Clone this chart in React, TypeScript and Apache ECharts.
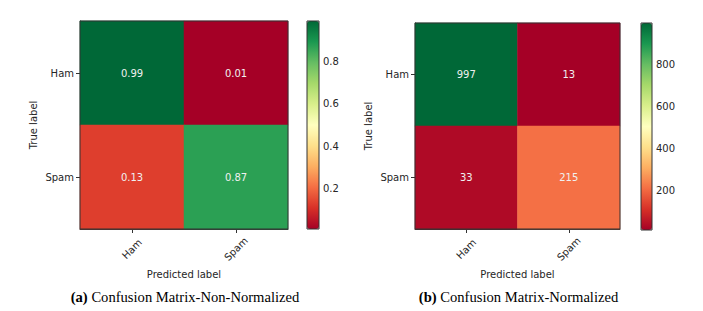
import React, { useEffect, useRef } from "react";
import * as echarts from "echarts";

const classes = ["Ham", "Spam"];
// [predicted index, true index, value]
const normalizedCells: [number, number, number][] = [
  [0, 0, 0.99],
  [1, 0, 0.01],
  [0, 1, 0.13],
  [1, 1, 0.87],
];
const countCells: [number, number, number][] = [
  [0, 0, 997],
  [1, 0, 13],
  [0, 1, 33],
  [1, 1, 215],
];
const normTicks = [0.2, 0.4, 0.6, 0.8];
const countTicks = [200, 400, 600, 800];
const captions = [
  { tag: "(a)", text: " Confusion Matrix-Non-Normalized" },
  { tag: "(b)", text: " Confusion Matrix-Normalized" },
];

const RdYlGn = [
  "#a50026", "#d73027", "#f46d43", "#fdae61", "#fee08b", "#ffffbf",
  "#d9ef8b", "#a6d96a", "#66bd63", "#1a9850", "#006837",
];

const FONT = "DejaVu Sans";
const TXT = "#262626";

export default function App() {
  const ref = useRef<HTMLDivElement>(null);
  useEffect(() => {
    const chart = echarts.init(ref.current!, null, { renderer: "svg" });
    const panels = [
      { cells: normalizedCells, ticks: normTicks, grid: { left: 80, top: 21, width: 208, height: 208 }, bar: { left: 307, top: 21, width: 12, height: 208 }, fmt: (v: number) => v.toFixed(2) },
      { cells: countCells, ticks: countTicks, grid: { left: 415, top: 23, width: 205, height: 206 }, bar: { left: 641, top: 23, width: 11, height: 207 }, fmt: (v: number) => String(v) },
    ];
    const grids: any[] = [];
    const xAxes: any[] = [];
    const yAxes: any[] = [];
    const series: any[] = [];
    const visualMaps: any[] = [];
    const graphics: any[] = [];
    panels.forEach((p, i) => {
      const vals = p.cells.map((c) => c[2]);
      const vmin = Math.min(...vals);
      const vmax = Math.max(...vals);
      const g = grids.length;
      grids.push({ ...p.grid, show: true, borderColor: "#333", borderWidth: 1, backgroundColor: "transparent", z: 5 });
      grids.push({ ...p.bar, show: true, borderColor: "#333", borderWidth: 1, backgroundColor: "transparent", z: 5 });
      const xi = xAxes.length;
      xAxes.push({
        type: "category", gridIndex: g, data: classes, position: "bottom",
        axisLine: { show: true, lineStyle: { color: "#333" } },
        axisTick: { show: true, alignWithLabel: true, length: 4, lineStyle: { color: "#333" } },
        axisLabel: { rotate: 45, align: "center", verticalAlign: "middle", fontFamily: FONT, fontSize: 10, color: TXT, margin: 20 },
        name: "Predicted label", nameLocation: "middle", nameGap: 40,
        nameTextStyle: { fontFamily: FONT, fontSize: 10, color: TXT },
        splitLine: { show: false },
      });
      xAxes.push({ type: "value", gridIndex: g + 1, show: false, min: 0, max: 1 });
      const yi = yAxes.length;
      yAxes.push({
        type: "category", gridIndex: g, data: classes, inverse: true,
        axisLine: { show: true, lineStyle: { color: "#333" } },
        axisTick: { show: true, alignWithLabel: true, length: 4, lineStyle: { color: "#333" } },
        axisLabel: { fontFamily: FONT, fontSize: 10, color: TXT, margin: 6 },
        name: "True label", nameLocation: "middle", nameGap: 42, nameRotate: 90,
        nameTextStyle: { fontFamily: FONT, fontSize: 10, color: TXT },
        splitLine: { show: false },
      });
      yAxes.push({
        type: "value", gridIndex: g + 1, position: "right", min: vmin, max: vmax,
        axisLine: { show: false },
        axisTick: { show: true, length: 4, customValues: p.ticks, lineStyle: { color: "#333" } },
        axisLabel: { customValues: p.ticks, fontFamily: FONT, fontSize: 10, color: TXT, margin: 4 },
        splitLine: { show: false },
      });
      series.push({
        type: "heatmap", xAxisIndex: xi, yAxisIndex: yi, data: p.cells,
        label: { show: true, color: "#f0f0f0", fontFamily: FONT, fontSize: 10, formatter: (d: any) => p.fmt(d.value[2]) },
        emphasis: { disabled: true },
        itemStyle: { borderWidth: 0 },
      });
      visualMaps.push({
        type: "continuous", seriesIndex: i, dimension: 2, min: vmin, max: vmax,
        calculable: false, hoverLink: false, orient: "vertical",
        left: p.bar.left, top: p.bar.top, itemWidth: p.bar.width, itemHeight: p.bar.height,
        padding: 0, text: null, showLabel: false, z: 2,
        inRange: { color: RdYlGn },
      });
      const cx = p.grid.left + p.grid.width / 2 + 1;
      graphics.push({
        type: "text", x: cx, y: 297,
        style: {
          text: `{b|${captions[i].tag}}{n|${captions[i].text}}`,
          align: "center", verticalAlign: "middle",
          rich: {
            b: { fontFamily: "Liberation Serif", fontSize: 14.6, fontWeight: "bold", fill: "#000" },
            n: { fontFamily: "Liberation Serif", fontSize: 14.6, fill: "#000" },
          },
        },
      });
    });
    chart.setOption({
      animation: false,
      backgroundColor: "#fff",
      grid: grids,
      xAxis: xAxes,
      yAxis: yAxes,
      visualMap: visualMaps,
      series,
      graphic: graphics,
    });
    return () => chart.dispose();
  }, []);
  return <div ref={ref} style={{ width: 703, height: 311, position: "absolute", left: 0, top: 0 }} />;
}
